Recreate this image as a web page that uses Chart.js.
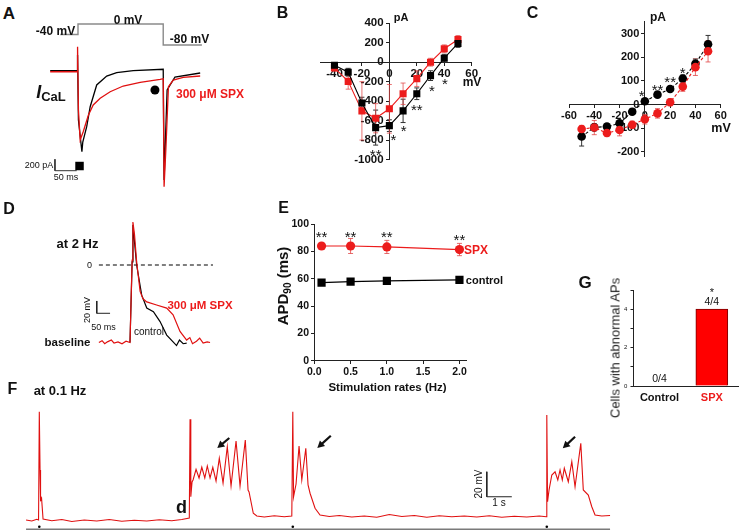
<!DOCTYPE html>
<html>
<head>
<meta charset="utf-8">
<script src="https://cdn.jsdelivr.net/npm/chart.js@4.4.1/dist/chart.umd.min.js"></script>
<style>
  body { margin: 0; background: #fff; }
  #fig { position: relative; width: 740px; height: 532px; overflow: hidden; font-family: Arial, "Liberation Sans", sans-serif; }
  #fig canvas { position: absolute; }
  .t { position: absolute; line-height: 1; white-space: nowrap; transform: translate(-50%, -50%); }
</style>
</head>
<body>
<div id="fig"></div>
<script>
// ---- panel A: I_CaL traces (ms, pA) and voltage protocol (mV)
const aCtrlT = [-64, -2, -1, 1, 9, 11, 20, 28, 43, 66, 89, 127, 196, 198, 205, 223, 281];
const aCtrlI = [0, 0, 275, -864, -1418, -1248, -980, -630, -250, -93, -35, 0, 25, -1913, -338, -110, -40];
const aSpxT = [-64, -2, -1, 1, 5, 12, 24, 35, 51, 74, 104, 143, 189, 196, 198, 202, 208, 219, 242, 281];
const aSpxI = [-18, -18, 420, -688, -1213, -1068, -775, -600, -483, -368, -268, -203, -151, -140, -2030, -1388, -280, -163, -116, -93];
const aProtoT = [-41, 0, 0, 196, 196, 285];
const aProtoV = [-40, -40, 0, 0, -80, -80];
const aBarT = [-53, -53, -3];       // 50 ms
const aBarI = [-1550, -1750, -1750]; // 200 pA

// ---- panel B: I-V, peak current
const bVolt = [-40, -30, -20, -10, 0, 10, 20, 30, 40, 50];
const bCtrl = [-31, -103, -420, -672, -652, -500, -324, -138, 41, 193];
const bCtrlErr = [20, 40, 60, 180, 60, 120, 60, 50, 40, 40];
const bSpx = [-59, -197, -500, -576, -479, -324, -169, 0, 138, 234];
const bSpxErr = [30, 80, 300, 150, 250, 110, 80, 40, 40, 40];
const bXTicks = [-40, -20, 0, 20, 40, 60];
const bYTicks = [400, 200, 0, -200, -400, -600, -800, -1000];
const bStars = [[-10, -920, '**'], [3, -758, '*'], [10.5, -673, '*'], [20, -450, '**'], [31, -258, '*'], [40.5, -183, '*']];

// ---- panel C: I-V, end-of-pulse current
const cVolt = [-50, -40, -30, -20, -10, 0, 10, 20, 30, 40, 50];
const cCtrl = [-135, -96, -93, -79, -30, 14, 42, 66, 110, 172, 255];
const cCtrlErr = [40, 15, 12, 12, 12, 10, 10, 10, 15, 20, 37];
const cSpx = [-103, -97, -120, -107, -85, -62, -37, 10, 76, 158, 225];
const cSpxErr = [15, 30, 15, 25, 15, 20, 20, 15, 20, 35, 45];
const cXTicks = [-60, -40, -20, 0, 20, 40, 60];
const cYTicks = [300, 200, 100, 0, -100, -200];
const cStars = [[-2.5, 50, '*'], [10, 78.5, '**'], [20, 109, '**'], [30, 150, '*']];

// ---- panel D: action potentials at 2 Hz (ms, mV)
const dSpxT = [-117, -105, -95, -85, -70, -60, -45, -30, -15, 0, 8, 11, 17, 25, 38, 49, 63, 100, 138, 162, 188, 213, 225, 235, 250, 262, 275, 290, 301];
const dSpxV = [-126, -123, -128, -125, -122, -127, -125, -128, -124, -126, 8, 70, 49, 5, -43, -55, -60, -65, -70, -81, -108, -122, -118, -128, -124, -119, -127, -125, -126];
const dCtrlT = [0, 8, 11, 25, 44, 63, 88, 113, 138, 162, 175, 186, 200, 213];
const dCtrlV = [-126, 5, 65, 0, -49, -70, -76, -92, -114, -125, -131, -122, -128, -127];
const dZeroT = [-117, 312];
const dBarT = [-125, -125, -75];       // 50 ms
const dBarV = [-58.5, -78.5, -78.5];   // 20 mV

// ---- panel E: APD90 vs stimulation rate
const eRate = [0.1, 0.5, 1.0, 2.0];
const eSpx = [84.1, 84.1, 83.4, 81.5];
const eSpxErr = [1.5, 5.5, 4.8, 4.5];
const eCtrl = [57.3, 58, 58.5, 59.3];
const eXTicks = [0, 0.5, 1, 1.5, 2];
const eYTicks = [0, 20, 40, 60, 80, 100];
const eStars = [[0.1, 93.4, '**'], [0.5, 93.4, '**'], [1.0, 93.4, '**'], [2.0, 91, '**']];

// ---- panel F: trace at 0.1 Hz (s, mV)
const fT = [-0.53, -0.30, -0.10, -0.03, 0, 0.03, 0.05, 0.09, 0.15, 0.5, 0.9, 1.3, 1.8, 2.3, 2.8, 3.3, 3.8, 4.3, 4.8, 5.3, 5.7, 6.0,
  6.03, 6.06, 6.11, 6.15, 6.27, 6.39, 6.50, 6.62, 6.72, 6.83, 6.94, 7.07, 7.20, 7.35, 7.52, 7.67, 7.87, 8.03, 8.24, 8.35, 8.39, 8.56, 8.70,
  9.0, 9.4, 9.8, 10.10, 10.14, 10.17, 10.27, 10.39, 10.50, 10.66, 10.75, 10.83, 11.03, 11.23,
  11.6, 12.0, 12.5, 13.0, 13.5, 14.0, 14.5, 15.0, 15.5, 16.0, 16.5, 17.0, 17.5, 18.0, 18.5, 19.0, 19.5, 20.0, 20.28,
  20.30, 20.33, 20.39, 20.50, 20.63, 20.74, 20.83, 20.92, 21.00, 21.16, 21.30, 21.43, 21.66, 21.76, 21.96, 22.10, 22.23, 22.5, 22.83];
const fV = [-80, -80.8, -79.4, -80, 6.6, -40, -64, -62.4, -79.2, -80.6, -79.6, -81.2, -80, -80.8, -79.6, -81, -80.2, -80.8, -79.8, -80.6, -79.6, -78.4,
  0.6, -61.4, -49.6, -48, -39.4, -46.4, -37.8, -46.4, -36.8, -46.4, -37.8, -48.8, -30.6, -50.4, -21.4, -52.8, -16.8, -52.8, -16, -56, -57.6, -74.6, -76.8,
  -77.6, -76.6, -77.4, -76.8, 6.6, -61.4, -51.2, -20.8, -48, -22.6, -52, -58.6, -70.6, -76,
  -77.2, -76.4, -77.6, -76.8, -77.8, -75.6, -77.2, -76.4, -77.8, -76.6, -77.4, -76.8, -77.6, -76.6, -77.8, -77, -77.6, -76.8, -77.4,
  4, -65.4, -56, -44, -41.4, -48, -40, -48, -38.6, -49.4, -33.4, -53.4, -18.6, -56, -60, -69.4, -76, -76.8, -76.4];
const fStimT = [0, 10.14, 20.30];
const fStimV = -85.4;
const fAxisT = [-0.53, 22.83];
const fAxisV = -87.4;
const fBarT = [17.9, 17.9, 18.9];       // 1 s
const fBarV = [-41.4, -61.4, -61.4];    // 20 mV
const fArrows = [[7.60, -14.4, 7.12, -22.4], [11.66, -12.6, 11.12, -22.4], [21.43, -13.4, 20.94, -22.6]];

// ---- panel G: cells with abnormal APs
const gGroups = ['Control', 'SPX'];
const gCells = [0, 4];
const gFrac = ['0/4', '4/4'];
const gYTicks = [0, 1, 2, 3, 4, 5];

const RED = '#ec1c1c';
const INK = '#111';
const FONT = 'Arial, "Liberation Sans", sans-serif';
Chart.defaults.font.family = FONT;
Chart.defaults.layout.autoPadding = false;

const fig = document.getElementById('fig');

function mkCanvas(left, top, w, h) {
  const c = document.createElement('canvas');
  c.width = w; c.height = h;
  c.style.left = left + 'px'; c.style.top = top + 'px';
  c.style.width = w + 'px'; c.style.height = h + 'px';
  fig.appendChild(c);
  return c;
}

function txt(html, x, y, size, opt = {}) {
  const d = document.createElement('div');
  d.className = 't';
  d.innerHTML = html;
  d.style.left = x + 'px';
  d.style.top = y + 'px';
  d.style.fontSize = size + 'px';
  d.style.fontWeight = opt.bold ? 'bold' : 'normal';
  d.style.color = opt.color || INK;
  if (opt.rot) d.style.transform = 'translate(-50%,-50%) rotate(-90deg)';
  fig.appendChild(d);
  return d;
}

function pts(xs, ys) {
  return xs.map((x, i) => ({ x, y: Array.isArray(ys) ? ys[i] : ys }));
}

function line(xs, ys, color, width, extra = {}) {
  return Object.assign({ data: pts(xs, ys), borderColor: color, backgroundColor: color, borderWidth: width, pointRadius: 0, tension: 0, fill: false }, extra);
}

// error bars, text notes and arrows drawn in data units
function annot(notes = [], arrows = []) {
  return {
    id: 'annot',
    beforeDatasetsDraw(chart) {
      const ctx = chart.ctx;
      chart.data.datasets.forEach((ds, i) => {
        if (!ds.errors) return;
        const meta = chart.getDatasetMeta(i);
        const ys = chart.scales[meta.yAxisID];
        ctx.save();
        ctx.strokeStyle = ds.errorColor || ds.borderColor;
        ctx.lineWidth = 1;
        meta.data.forEach((p, j) => {
          const e = ds.errors[j];
          if (!e) return;
          const v = ds.data[j].y;
          const y1 = ys.getPixelForValue(v + e), y2 = ys.getPixelForValue(v - e);
          ctx.beginPath();
          ctx.moveTo(p.x, y1); ctx.lineTo(p.x, y2);
          ctx.moveTo(p.x - 2.5, y1); ctx.lineTo(p.x + 2.5, y1);
          ctx.moveTo(p.x - 2.5, y2); ctx.lineTo(p.x + 2.5, y2);
          ctx.stroke();
        });
        ctx.restore();
      });
    },
    afterDatasetsDraw(chart) {
      const ctx = chart.ctx, xs = chart.scales.x, ys = chart.scales.y;
      notes.forEach(n => {
        const size = n.size || 14;
        ctx.save();
        ctx.font = (n.bold ? 'bold ' : '') + size + 'px ' + FONT;
        ctx.fillStyle = n.color || INK;
        ctx.textAlign = 'center';
        ctx.textBaseline = 'alphabetic';
        const off = /^\*+$/.test(n.text) ? 0.57 : 0.36;
        ctx.fillText(n.text, xs.getPixelForValue(n.x), ys.getPixelForValue(n.y) + off * size);
        ctx.restore();
      });
      arrows.forEach(a => {
        const x1 = xs.getPixelForValue(a[0]), y1 = ys.getPixelForValue(a[1]);
        const x2 = xs.getPixelForValue(a[2]), y2 = ys.getPixelForValue(a[3]);
        const ang = Math.atan2(y2 - y1, x2 - x1);
        ctx.save();
        ctx.strokeStyle = INK; ctx.fillStyle = INK; ctx.lineWidth = 2.2;
        ctx.beginPath();
        ctx.moveTo(x1, y1);
        ctx.lineTo(x2 - 5 * Math.cos(ang), y2 - 5 * Math.sin(ang));
        ctx.stroke();
        ctx.beginPath();
        ctx.moveTo(x2, y2);
        ctx.lineTo(x2 - 7 * Math.cos(ang) + 3.8 * Math.sin(ang), y2 - 7 * Math.sin(ang) - 3.8 * Math.cos(ang));
        ctx.lineTo(x2 - 7 * Math.cos(ang) - 3.8 * Math.sin(ang), y2 - 7 * Math.sin(ang) + 3.8 * Math.cos(ang));
        ctx.closePath();
        ctx.fill();
        ctx.restore();
      });
    }
  };
}

const baseOpts = {
  responsive: false,
  animation: false,
  events: [],
  plugins: { legend: { display: false }, tooltip: { enabled: false } }
};

function traceChart(canvas, datasets, xr, yr, y2r, plugins) {
  const scales = {
    x: { type: 'linear', display: false, min: xr[0], max: xr[1] },
    y: { type: 'linear', display: false, min: yr[0], max: yr[1] }
  };
  if (y2r) scales.y2 = { type: 'linear', display: false, min: y2r[0], max: y2r[1] };
  return new Chart(canvas, {
    type: 'line',
    data: { datasets },
    options: Object.assign({}, baseOpts, { layout: { padding: 0, autoPadding: false }, scales }),
    plugins: plugins || []
  });
}

// axis crossing the other one at a data value; `gap` keeps y labels off the axis line
function crossAxis(o) {
  const fmt = o.fmt || (v => String(v));
  return {
    type: 'linear',
    min: o.min, max: o.max,
    position: o.position,
    offset: false,
    grid: { drawOnChartArea: false, drawTicks: o.tl > 0, tickLength: o.tl, color: '#222', offset: false },
    border: { display: true, color: '#222', width: 1 },
    ticks: { font: { size: o.size, weight: o.weight || 'bold' }, color: o.color || INK, padding: o.pad, callback: v => { const s = fmt(v); return s ? s + (o.gap || '') : s; } },
    afterBuildTicks: s => { s.ticks = o.ticks.map(v => ({ value: v })); }
  };
}

// ===== A
traceChart(mkCanvas(20, 5, 195, 190), [
  { type: 'scatter', data: [{ x: 177, y: -338 }], pointStyle: 'circle', pointRadius: 4.5, backgroundColor: '#000', borderColor: '#000', borderWidth: 0 },
  { type: 'scatter', data: [{ x: 3.5, y: -1668 }], pointStyle: 'rect', pointRadius: 6, backgroundColor: '#000', borderColor: '#000', borderWidth: 0 },
  line(aSpxT, aSpxI, '#e01010', 1.3),
  line(aCtrlT, aCtrlI, '#000', 1.3),
  line(aProtoT, aProtoV, '#8a8a8a', 1.4, { yAxisID: 'y2' }),
  line(aBarT, aBarI, '#333', 1)
], [-133.4, 315.1], [-2175.25, 1149.75], [-651.4, 72.4]);

txt('A', 9, 13, 17, { bold: true });
txt('-40 mV', 55.5, 31, 12, { bold: true });
txt('0 mV', 128, 19.5, 12, { bold: true });
txt('-80 mV', 189.5, 39, 12, { bold: true });
txt('<i>I</i><span style="position:relative;top:3px;font-size:13px;font-style:normal">CaL</span>', 51, 92, 18, { bold: true });
txt('300 μM SPX', 210, 94, 12, { bold: true, color: RED });
txt('200 pA', 39, 165, 9);
txt('50 ms', 66, 176.5, 9);

// ===== B
new Chart(mkCanvas(270, 0, 220, 190), {
  type: 'line',
  data: {
    datasets: [
      line(bVolt, bCtrl, '#000', 1.1, { pointStyle: 'rect', pointRadius: 5, pointBackgroundColor: '#000', pointBorderWidth: 0, errors: bCtrlErr, errorColor: '#333' }),
      line(bVolt, bSpx, RED, 1.1, { pointStyle: 'rect', pointRadius: 5, pointBackgroundColor: RED, pointBorderWidth: 0, errors: bSpxErr, errorColor: 'rgba(225,70,70,0.75)' })
    ]
  },
  options: Object.assign({}, baseOpts, {
    layout: { padding: { left: 50.75, right: 18.3, top: 23.3, bottom: 30.5 } },
    scales: {
      x: crossAxis({ min: -50, max: 60, position: { y: 0 }, ticks: bXTicks, tl: 3, pad: 2, size: 11.5 }),
      y: crossAxis({ min: -1000, max: 400, position: { x: 0 }, ticks: bYTicks, tl: 3, pad: 3, size: 11.5, gap: '\u2002' })
    }
  }),
  plugins: [annot(bStars.map(s => ({ x: s[0], y: s[1], text: s[2], size: 15 })))]
});
txt('B', 282.5, 12.5, 16, { bold: true });
txt('pA', 401, 16.5, 11, { bold: true });
txt('mV', 472, 82, 12, { bold: true });

// ===== C
new Chart(mkCanvas(520, 0, 220, 190), {
  type: 'line',
  data: {
    datasets: [
      line(cVolt, cSpx, RED, 1.1, { borderDash: [3, 2], pointRadius: 4.3, pointBackgroundColor: RED, pointBorderWidth: 0, errors: cSpxErr, errorColor: 'rgba(225,70,70,0.8)' }),
      line(cVolt, cCtrl, '#000', 1.1, { borderDash: [3, 2], pointRadius: 4.3, pointBackgroundColor: '#000', pointBorderWidth: 0, errors: cCtrlErr, errorColor: '#333' })
    ]
  },
  options: Object.assign({}, baseOpts, {
    layout: { padding: { left: 49, right: 19.3, top: 21.7, bottom: 33.3 } },
    scales: {
      x: crossAxis({ min: -60, max: 60, position: { y: 0 }, ticks: cXTicks, tl: 3, pad: 2, size: 11 }),
      y: crossAxis({ min: -220, max: 350, position: { x: 0 }, ticks: cYTicks, tl: 3, pad: 3, size: 11, gap: '\u2002' })
    }
  }),
  plugins: [annot(cStars.map(s => ({ x: s[0], y: s[1], text: s[2], size: 15 })))]
});
txt('C', 532.5, 13.3, 16, { bold: true });
txt('pA', 658, 17, 12, { bold: true });
txt('mV', 721, 127.5, 12.5, { bold: true });

// ===== D
traceChart(mkCanvas(90, 215, 130, 135), [
  line(dSpxT, dSpxV, '#e01010', 1.2),
  line(dCtrlT, dCtrlV, '#000', 1.2),
  line(dZeroT, 0, '#000', 1.2, { borderDash: [4, 3] }),
  line(dBarT, dBarV, '#222', 1)
], [-150.4, 338.4], [-138.2, 81.3]);
txt('D', 9, 209, 16, { bold: true });
txt('at 2 Hz', 77.5, 243, 13, { bold: true });
txt('0', 89.5, 265, 9);
txt('baseline', 67.5, 343, 11.5, { bold: true });
txt('300 μM SPX', 200, 306, 11.5, { bold: true, color: RED });
txt('20 mV', 87, 309.5, 9, { rot: true });
txt('50 ms', 103.5, 327, 9);
txt('control', 149, 331.5, 10);

// ===== E
new Chart(mkCanvas(270, 205, 250, 190), {
  type: 'line',
  data: {
    datasets: [
      line(eRate, eSpx, RED, 1.2, { pointRadius: 4.6, pointBackgroundColor: RED, pointBorderWidth: 0, errors: eSpxErr, errorColor: 'rgba(225,70,70,0.8)' }),
      line(eRate, eCtrl, '#000', 1.2, { pointStyle: 'rect', pointRadius: 5.8, pointBackgroundColor: '#000', pointBorderWidth: 0 })
    ]
  },
  options: Object.assign({}, baseOpts, {
    layout: { padding: { left: 44.3, right: 53.3, top: 19.3, bottom: 34.3 } },
    scales: {
      x: crossAxis({ min: 0, max: 2.1, position: { y: 0 }, ticks: eXTicks, tl: 3, pad: 2, size: 10.5, fmt: v => v.toFixed(1) }),
      y: crossAxis({ min: 0, max: 100, position: { x: 0 }, ticks: eYTicks, tl: 3, pad: 2, size: 10.5, gap: '\u2002' })
    }
  }),
  plugins: [annot(eStars.map(s => ({ x: s[0], y: s[1], text: s[2], size: 15 })))]
});
txt('E', 283.5, 207.7, 16, { bold: true });
txt('APD<span style="position:relative;top:3px;font-size:10px">90</span> (ms)', 282, 286, 15, { bold: true, rot: true });
txt('Stimulation rates (Hz)', 387.5, 388, 11.5, { bold: true });
txt('SPX', 476, 249.5, 12, { bold: true, color: RED });
txt('control', 484.5, 280, 11, { bold: true });

// ===== F
traceChart(mkCanvas(20, 405, 600, 130), [
  line(fT, fV, '#e01010', 1.1),
  line(fAxisT, fAxisV, '#7a7a7a', 1.6),
  { type: 'scatter', data: pts(fStimT, fStimV), pointRadius: 1.3, backgroundColor: '#000', borderWidth: 0 },
  line(fBarT, fBarV, '#222', 1)
], [-0.772, 23.228], [-92, 12], null, [annot([], fArrows)]);
txt('F', 12.5, 388.5, 16, { bold: true });
txt('at 0.1 Hz', 60, 389.5, 13, { bold: true });
txt('d', 181.5, 507, 18, { bold: true });
txt('20 mV', 479, 484, 10, { rot: true });
txt('1 s', 499, 503, 10);

// ===== G
const gColors = [INK, RED];
new Chart(mkCanvas(600, 280, 140, 130), {
  type: 'bar',
  data: {
    datasets: [{ data: pts([0, 1], gCells), backgroundColor: '#ff0000', borderColor: '#7a0000', borderWidth: 1, barThickness: 32 }]
  },
  options: Object.assign({}, baseOpts, {
    layout: { padding: { left: 33.3, right: 2, top: 10, bottom: 24 } },
    scales: {
      x: Object.assign(crossAxis({ min: -0.5, max: 1.5, position: { y: 0 }, ticks: [0, 1], tl: 0, pad: 5, size: 11 }),
        { ticks: { font: { size: 11, weight: 'bold' }, padding: 5, color: c => gColors[c.index], callback: v => gGroups[v] } }),
      y: crossAxis({ min: 0, max: 5, position: { x: -0.5 }, ticks: gYTicks, tl: 2.5, pad: 2, size: 6, weight: 'normal', gap: '\u2002\u2002', fmt: v => (v % 2 === 0 && v < 5 ? String(v) : '') })
    }
  }),
  plugins: [annot([
    { x: 0, y: 0.42, text: gFrac[0], size: 10.5 },
    { x: 1, y: gCells[1] + 0.43, text: gFrac[1], size: 10.5 },
    { x: 1, y: 5.0, text: '*', size: 11 }
  ])]
});
txt('G', 585, 281.5, 17, { bold: true });
txt('Cells with abnormal APs', 615, 347.5, 13, { rot: true, color: '#222' });
</script>
</body>
</html>
